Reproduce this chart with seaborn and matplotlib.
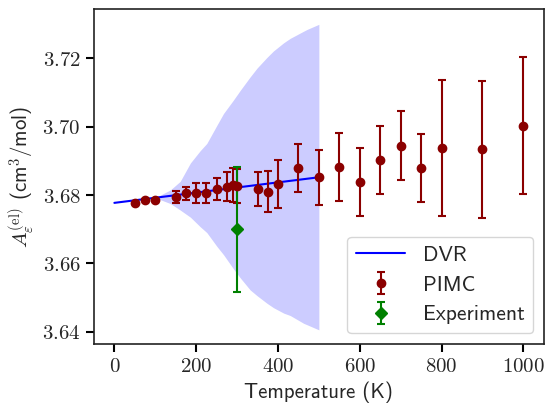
import numpy as np
import matplotlib
matplotlib.use("Agg")
import matplotlib.pyplot as plt
import seaborn as sns

# ---------------------------------
# Data
# ---------------------------------

dvr_T = [0, 100, 200, 300, 400, 500]
dvr_A = [3.6777, 3.6792, 3.6807, 3.6822, 3.6837, 3.6852]

band_T = [100, 137, 161, 186, 210, 226, 251, 267, 291, 308, 332, 349, 373,
          389, 414, 430, 463, 471, 500]
band_hi = [3.6792, 3.6815, 3.6840, 3.6894, 3.6930, 3.6951, 3.7005, 3.7039,
           3.7078, 3.7107, 3.7146, 3.7172, 3.7203, 3.7222, 3.7246, 3.7259,
           3.7280, 3.7285, 3.7300]
band_lo = [3.6792, 3.6775, 3.6756, 3.6735, 3.6707, 3.6690, 3.6649, 3.6625,
           3.6584, 3.6557, 3.6522, 3.6505, 3.6483, 3.6470, 3.6454, 3.6447,
           3.6424, 3.6420, 3.6405]

pimc_T = [50, 75, 100, 150, 175, 200, 225, 250, 275, 290, 300, 350, 375,
          400, 450, 500, 550, 600, 650, 700, 750, 800, 900, 1000]
pimc_A = [3.6776, 3.6785, 3.6785, 3.6795, 3.6805, 3.6805, 3.6805, 3.6817,
          3.6824, 3.6829, 3.6826, 3.6818, 3.6810, 3.6832, 3.6878, 3.6852,
          3.6881, 3.6839, 3.6902, 3.6945, 3.6879, 3.6938, 3.6934, 3.7003]
pimc_err = [0.0002, 0.0003, 0.0003, 0.0018, 0.0019, 0.0029, 0.0029, 0.0032,
            0.0042, 0.0050, 0.0050, 0.0050, 0.0060, 0.0070, 0.0070, 0.0080,
            0.0100, 0.0100, 0.0100, 0.0100, 0.0100, 0.0200, 0.0200, 0.0200]

exp_T = [300]
exp_A = [3.6700]
exp_err = [0.0183]

# ---------------------------------
# Style
# ---------------------------------

sns.set_theme(style="ticks")
plt.rcParams["font.family"] = ["cmss10", "DejaVu Sans"]
plt.rcParams["mathtext.fontset"] = "cm"
plt.rcParams["axes.formatter.use_mathtext"] = True
plt.rcParams["axes.unicode_minus"] = False

fig = plt.figure(figsize=(5.46, 4.05), dpi=100)
ax = fig.add_axes([0.172, 0.151, 0.824, 0.826])

# ---------------------------------
# Plot
# ---------------------------------

ax.fill_between(band_T, band_lo, band_hi, color="#ccccff", linewidth=0)

sns.lineplot(x=dvr_T, y=dvr_A, color="blue", linewidth=1.5, label="DVR", ax=ax)

ax.errorbar(pimc_T, pimc_A, yerr=pimc_err, fmt="o", color="darkred",
            markersize=6, capsize=3, elinewidth=1.5, capthick=1.5, label="PIMC")

ax.errorbar(exp_T, exp_A, yerr=exp_err, fmt="D", color="green",
            markersize=6, capsize=3, elinewidth=1.5, capthick=1.5,
            label="Experiment")

ax.set_xlim(-50, 1050)
ax.set_ylim(3.6364, 3.7344)
ax.set_xticks([0, 200, 400, 600, 800, 1000])
ax.set_xticklabels([f"${t}$" for t in [0, 200, 400, 600, 800, 1000]])
ax.set_yticks([3.64, 3.66, 3.68, 3.70, 3.72])
ax.set_yticklabels([f"${v:.2f}$" for v in [3.64, 3.66, 3.68, 3.70, 3.72]])
ax.tick_params(labelsize=15, length=6, width=1.5, color="black")
for s in ax.spines.values():
    s.set_color("#222222")
    s.set_linewidth(1.2)

ax.set_xlabel("Temperature (K)", fontsize=15)
ax.set_ylabel(r"$A_\varepsilon^{(\mathrm{el})}$ (cm$^3$/mol)", fontsize=15)

ax.legend(loc="lower right", fontsize=15.5, frameon=True, fancybox=True,
          handlelength=2.3)

plt.savefig("out.png", dpi=100)
